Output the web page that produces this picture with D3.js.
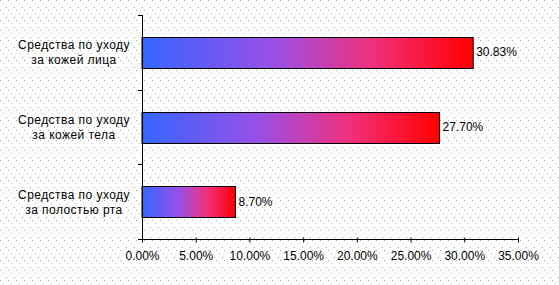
<!DOCTYPE html>
<html lang="ru">
<head>
    <meta charset="UTF-8">
    <title>Средства по уходу</title>
    <style>
        body { margin: 0; background: #fff; }
        svg { display: block; }
        text { font-family: "Liberation Sans", Arial, sans-serif; font-size: 12px; fill: #000; }
        text.cat { letter-spacing: 0.45px; }
    </style>
</head>
<body>
    <div id="chart"></div>
    <script src="https://d3js.org/d3.v7.min.js"></script>
    <script>
        // Data
        const categories = [
            ["Средства по уходу", "за кожей лица"],
            ["Средства по уходу", "за кожей тела"],
            ["Средства по уходу", "за полостью рта"]
        ];
        const values = [30.83, 27.70, 8.70];
        const xTicks = [0, 5, 10, 15, 20, 25, 30, 35];

        const width = 559, height = 285;
        const margin = { top: 15, right: 41, bottom: 46, left: 142 };

        const svg = d3.select("#chart").append("svg")
            .attr("width", width)
            .attr("height", height);

        const defs = svg.append("defs");

        // dotted background
        const pat = defs.append("pattern")
            .attr("id", "dots")
            .attr("width", 8).attr("height", 10)
            .attr("patternUnits", "userSpaceOnUse");
        [[0, 0, "#a8a8a8"], [3, 3, "#c8c8c8"], [6, 7, "#a8a8a8"]].forEach(p => {
            pat.append("rect").attr("x", p[0]).attr("y", p[1])
                .attr("width", 1).attr("height", 1).attr("fill", p[2]);
        });
        svg.append("rect").attr("width", width).attr("height", height).attr("fill", "#fff");
        svg.append("rect").attr("width", width).attr("height", height).attr("fill", "url(#dots)");

        // bar gradient
        const grad = defs.append("linearGradient").attr("id", "barGrad")
            .attr("x1", 0).attr("x2", 1).attr("y1", 0).attr("y2", 0);
        grad.append("stop").attr("offset", "0%").attr("stop-color", "#3366ff");
        grad.append("stop").attr("offset", "40%").attr("stop-color", "#9b4fe6");
        grad.append("stop").attr("offset", "70%").attr("stop-color", "#f0307a");
        grad.append("stop").attr("offset", "100%").attr("stop-color", "#ff0000");

        const x = d3.scaleLinear()
            .domain([0, 35])
            .range([margin.left, width - margin.right]);

        const y = d3.scaleBand()
            .domain(d3.range(categories.length))
            .range([margin.top, height - margin.bottom])
            .paddingInner(0.59)
            .paddingOuter(0.295);

        // bars
        svg.selectAll("rect.bar")
            .data(values)
            .enter().append("rect")
            .attr("class", "bar")
            .attr("x", x(0))
            .attr("y", (d, i) => Math.round(y(i)) + 0.5)
            .attr("width", d => x(d) - x(0))
            .attr("height", Math.round(y.bandwidth()))
            .attr("fill", "url(#barGrad)")
            .attr("stroke", "#000")
            .attr("stroke-width", 1);

        // value labels
        svg.selectAll("text.val")
            .data(values)
            .enter().append("text")
            .attr("class", "val")
            .attr("x", d => x(d) + 3)
            .attr("y", (d, i) => y(i) + y.bandwidth() / 2 + 4)
            .text(d => d.toFixed(2) + "%");

        // x axis
        const xAxis = svg.append("g")
            .attr("transform", `translate(0,${height - margin.bottom + 0.5})`)
            .call(d3.axisBottom(x).tickValues(xTicks).tickSize(5)
                .tickFormat(d => d.toFixed(2) + "%"));
        xAxis.select(".domain").attr("d", `M${x(0)},0H${x(35)}`).attr("stroke", "#000");
        xAxis.selectAll(".tick line").attr("stroke", "#000").attr("y1", -2).attr("y2", 3);
        xAxis.selectAll(".tick text").attr("y", 12).attr("dy", "0.71em")
            .style("font-family", "Liberation Sans, Arial, sans-serif").style("font-size", "12px");

        // y axis
        const yBounds = d3.range(categories.length + 1).map(i => margin.top + i * (height - margin.bottom - margin.top) / categories.length);
        const yAxis = svg.append("g");
        yAxis.append("line")
            .attr("x1", x(0) + 0.5).attr("x2", x(0) + 0.5)
            .attr("y1", margin.top).attr("y2", height - margin.bottom)
            .attr("stroke", "#000");
        yAxis.selectAll("line.tk")
            .data(yBounds)
            .enter().append("line")
            .attr("class", "tk")
            .attr("x1", x(0) - 4).attr("x2", x(0) + 0.5)
            .attr("y1", d => Math.round(d) + 0.5).attr("y2", d => Math.round(d) + 0.5)
            .attr("stroke", "#000");

        // category labels
        const labels = svg.selectAll("text.cat")
            .data(categories)
            .enter().append("text")
            .attr("class", "cat")
            .attr("text-anchor", "middle")
            .attr("x", 74)
            .attr("y", (d, i) => y(i) + y.bandwidth() / 2 - 3);
        labels.selectAll("tspan")
            .data(d => d)
            .enter().append("tspan")
            .attr("x", 74)
            .attr("dy", (d, i) => i === 0 ? 0 : 15)
            .text(d => d);
    </script>
</body>
</html>
